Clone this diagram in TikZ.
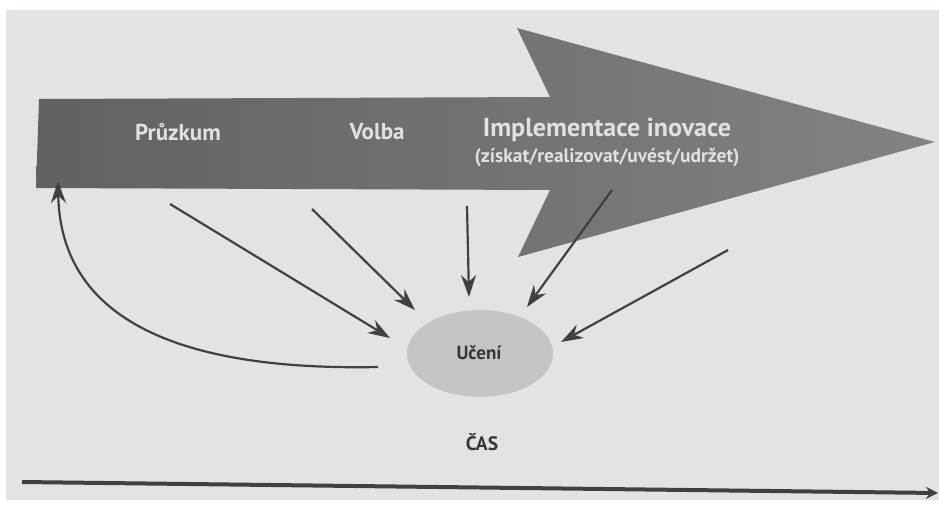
\documentclass[tikz,border=0pt]{standalone}
\usepackage{fontspec}
\setmainfont{PT Sans}
\usetikzlibrary{arrows.meta}
\definecolor{paper}{HTML}{E6E1E2}
\definecolor{bigarrowL}{HTML}{646060}
\definecolor{bigarrowR}{HTML}{878282}
\definecolor{labelfg}{HTML}{E4E0E0}
\definecolor{inkline}{HTML}{434041}
\definecolor{ellfill}{HTML}{C7C3C3}
\definecolor{darktext}{HTML}{3A3637}
\tikzset{
  infl/.style={draw=inkline, line width=2.2pt, -{Stealth[length=22pt,width=15pt]}},
  onarrow/.style={text=labelfg, font=\bfseries\fontsize{23}{26}\selectfont, inner sep=0pt},
  darklbl/.style={text=darktext, inner sep=0pt},
}
\begin{document}
\begin{tikzpicture}[x=1pt,y=-1pt]
\useasboundingbox (0,0) rectangle (939,507);
\fill[white] (0,0) rectangle (939,507);
\fill[paper] (6,10) rectangle (939,500);
% big arrow
\shade[left color=bigarrowL, right color=bigarrowR]
  (39,99) -- (550,97) -- (517,28) -- (935,142) -- (518,257) -- (550,190) -- (36,188) -- cycle;
\node[onarrow] (pruzkum) at (178,132) {Průzkum};
\node[onarrow] (volba) at (377,132) {Volba};
\node[onarrow, font=\bfseries\fontsize{26}{30}\selectfont] (impl) at (607,130) {Implementace inovace};
\node[onarrow, font=\bfseries\fontsize{19.5}{22}\selectfont] (implsub) at (607,158) {(získat/realizovat/uvést/udržet)};
% learning ellipse
\fill[ellfill] (480,353.5) ellipse [x radius=73, y radius=43.5];
\node[darklbl, font=\bfseries\fontsize{19}{22}\selectfont] (uceni) at (479,353) {Učení};
\node[darklbl, font=\bfseries\fontsize{19.5}{22}\selectfont] (cas) at (482,442) {ČAS};
% source points
\coordinate (s1) at (170,204);
\coordinate (s2) at (312,209);
\coordinate (s3) at (467,206);
\coordinate (s4) at (612,190);
\coordinate (s5) at (728,250);
\coordinate (t1) at (390,338);
\coordinate (t2) at (415,310);
\coordinate (t3) at (469,297);
\coordinate (t4) at (527,307);
\coordinate (t5) at (561,342);
\draw[infl] (s1) -- (t1);
\draw[infl] (s2) -- (t2);
\draw[infl] (s3) -- (t3);
\draw[infl] (s4) -- (t4);
\draw[infl] (s5) -- (t5);
% feedback curve
\coordinate (fb0) at (378,367);
\coordinate (fb1) at (58,181);
\draw[infl] (fb0) .. controls (130,372) and (60,290) .. (fb1);
% time axis
\coordinate (ta) at (22,482);
\coordinate (tb) at (938,493);
\draw[draw=inkline, line width=4pt, -{Stealth[length=12pt,width=12pt]}] (ta) -- (tb);
\end{tikzpicture}
\end{document}
